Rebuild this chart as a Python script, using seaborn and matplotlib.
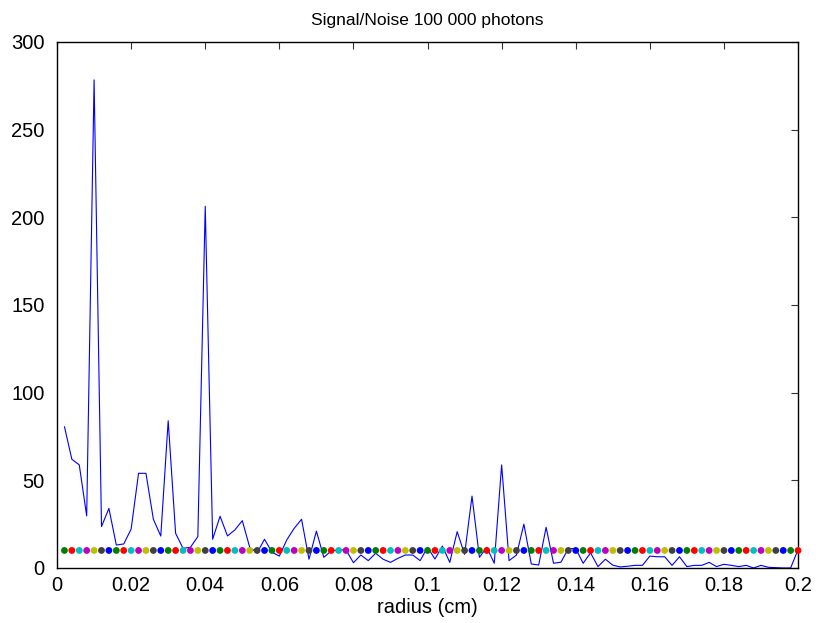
import matplotlib
matplotlib.use("Agg")
import matplotlib.pyplot as plt
import seaborn as sns
import pandas as pd

# radius grid (cm), 100 samples
radius = [
    0.002, 0.004, 0.006, 0.008, 0.010, 0.012, 0.014, 0.016, 0.018, 0.020,
    0.022, 0.024, 0.026, 0.028, 0.030, 0.032, 0.034, 0.036, 0.038, 0.040,
    0.042, 0.044, 0.046, 0.048, 0.050, 0.052, 0.054, 0.056, 0.058, 0.060,
    0.062, 0.064, 0.066, 0.068, 0.070, 0.072, 0.074, 0.076, 0.078, 0.080,
    0.082, 0.084, 0.086, 0.088, 0.090, 0.092, 0.094, 0.096, 0.098, 0.100,
    0.102, 0.104, 0.106, 0.108, 0.110, 0.112, 0.114, 0.116, 0.118, 0.120,
    0.122, 0.124, 0.126, 0.128, 0.130, 0.132, 0.134, 0.136, 0.138, 0.140,
    0.142, 0.144, 0.146, 0.148, 0.150, 0.152, 0.154, 0.156, 0.158, 0.160,
    0.162, 0.164, 0.166, 0.168, 0.170, 0.172, 0.174, 0.176, 0.178, 0.180,
    0.182, 0.184, 0.186, 0.188, 0.190, 0.192, 0.194, 0.196, 0.198, 0.200,
]

# signal/noise ratio
snr = [
    80.6, 62.0, 58.8, 29.7, 278.4, 23.6, 34.0, 13.1, 13.7, 22.2,
    54.0, 54.0, 27.8, 18.2, 84.0, 19.8, 11.2, 11.8, 17.9, 206.3,
    16.4, 29.5, 18.3, 21.7, 27.0, 11.8, 8.7, 16.4, 9.0, 6.8,
    16.0, 22.6, 27.8, 5.0, 21.0, 6.1, 9.7, 10.3, 10.3, 3.0,
    7.4, 4.2, 8.4, 5.0, 3.2, 5.5, 7.4, 7.4, 4.2, 11.8,
    5.1, 12.5, 3.2, 20.7, 7.8, 41.0, 6.1, 11.8, 2.7, 58.8,
    4.2, 7.4, 25.0, 2.3, 1.7, 23.2, 2.7, 3.3, 11.1, 11.0,
    2.7, 8.6, 0.8, 5.0, 1.6, 0.6, 1.0, 1.5, 1.5, 6.8,
    6.4, 6.4, 1.5, 6.4, 0.8, 1.5, 1.5, 3.2, 0.8, 2.1,
    1.5, 0.8, 1.5, 0.0, 1.5, 0.4, 0.2, 0.0, 0.0, 10.5,
]

# constant threshold level drawn as coloured dots
threshold = [10] * len(radius)

x_ticks = [0, 0.02, 0.04, 0.06, 0.08, 0.1, 0.12, 0.14, 0.16, 0.18, 0.2]
x_tick_labels = ["0", "0.02", "0.04", "0.06", "0.08", "0.1", "0.12", "0.14", "0.16", "0.18", "0.2"]
y_ticks = [0, 50, 100, 150, 200, 250, 300]

# MATLAB-like colour order; the line took the first colour, dots cycle from the second
color_order = ["#0000ff", "#008000", "#ff0000", "#00bfbf", "#bf00bf", "#bfbf00", "#404040"]

sns.set_style("white")
plt.rcParams["font.family"] = ["Liberation Sans", "DejaVu Sans"]
plt.rcParams["text.color"] = "black"
plt.rcParams["axes.labelcolor"] = "black"
plt.rcParams["xtick.color"] = "black"
plt.rcParams["ytick.color"] = "black"

df = pd.DataFrame({"radius": radius, "snr": snr, "threshold": threshold})
df["dot_color"] = [str((i + 1) % 7) for i in range(len(df))]
palette = {str(k): c for k, c in enumerate(color_order)}

fig = plt.figure(figsize=(8.16, 6.23), dpi=100)
ax = fig.add_axes([0.0699, 0.0883, 0.9081, 0.8443])

sns.lineplot(data=df, x="radius", y="snr", color="#0000ff", linewidth=0.8,
             estimator=None, sort=False, ax=ax, zorder=2)
sns.scatterplot(data=df, x="radius", y="threshold", hue="dot_color", palette=palette,
                legend=False, s=24, linewidth=0, ax=ax, zorder=3, clip_on=False)

ax.set_xlim(0, 0.2)
ax.set_ylim(0, 300)
ax.set_xticks(x_ticks)
ax.set_xticklabels(x_tick_labels)
ax.set_yticks(y_ticks)
ax.tick_params(direction="in", length=5, width=0.8, labelsize=14.5, color="#333333",
               labelcolor="black", top=True, right=True)
ax.tick_params(axis="x", pad=6)
ax.tick_params(axis="y", pad=9)
for s in ax.spines.values():
    s.set_visible(True)
    s.set_color("black")
    s.set_linewidth(1.0)

ax.set_xlabel("radius (cm)", fontsize=14.5, labelpad=2)
ax.set_ylabel("")
ax.set_title("Signal/Noise 100 000 photons", fontsize=12.5, pad=12)

fig.savefig("out.png", dpi=100)
